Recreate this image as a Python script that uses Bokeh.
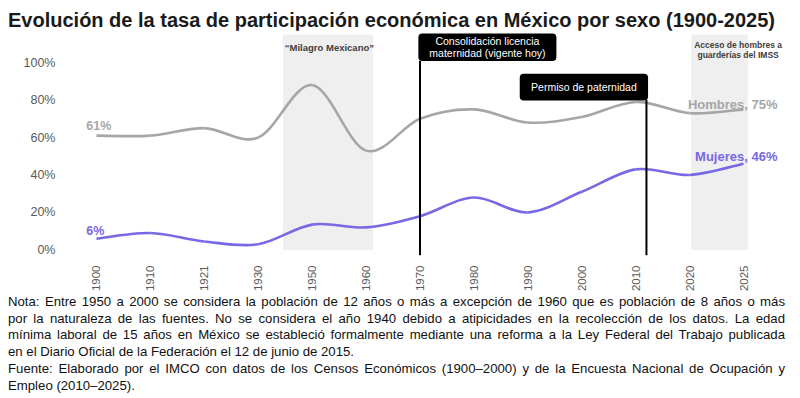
import numpy as np
from bokeh.plotting import figure
from bokeh.models import FixedTicker, Div, ColumnDataSource
from bokeh.layouts import column
from bokeh.embed import file_html
from bokeh.resources import INLINE
from bokeh.core.properties import value

# ---------------- data ----------------
years = ["1900", "1910", "1921", "1930", "1950", "1960", "1970", "1980",
         "1990", "2000", "2010", "2020", "2025"]
hombres = [61, 61, 65, 60, 88, 53, 70, 75, 68, 71, 79, 73, 75]
mujeres = [6, 9, 4.5, 3, 13.5, 12, 18, 28, 20, 31, 43, 40, 46]
y_ticks = [0, 20, 40, 60, 80, 100]
y_tick_labels = ["0%", "20%", "40%", "60%", "80%", "100%"]
event_years = [1970, 2012]
event_texts = [["Consolidación licencia", "maternidad (vigente hoy)"],
               ["Permiso de paternidad"]]

TITLE = "Evolución de la tasa de participación económica en México por sexo (1900-2025)"
NOTE_LINES = [
    ("Nota: Entre 1950 a 2000 se considera la población de 12 años o más a excepción de 1960 que es población de 8 años o más", True),
    ("por la naturaleza de las fuentes. No se considera el año 1940 debido a atipicidades en la recolección de los datos. La edad", True),
    ("mínima laboral de 15 años en México se estableció formalmente mediante una reforma a la Ley Federal del Trabajo publicada", True),
    ("en el Diario Oficial de la Federación el 12 de junio de 2015.", False),
    ("Fuente: Elaborado por el IMCO con datos de los Censos Económicos (1900–2000) y de la Encuesta Nacional de Ocupación y", True),
    ("Empleo (2010–2025).", False),
]

GRAY = "#a6a6a6"
PURPLE = "#7768e3"
FONT = "Liberation Sans"

idx = np.arange(len(years), dtype=float)
year_num = np.array([int(y) for y in years], dtype=float)


def year_to_x(y):
    return float(np.interp(y, year_num, idx))


def bezier_segments(xs, ys):
    xs = np.asarray(xs, float)
    ys = np.asarray(ys, float)
    n = len(xs)
    px = np.concatenate([[xs[0]], xs, [xs[-1]]])
    py = np.concatenate([[ys[0]], ys, [ys[-1]]])
    d = dict(x0=[], y0=[], x1=[], y1=[], cx0=[], cy0=[], cx1=[], cy1=[])
    for i in range(n - 1):
        p0x, p0y = px[i], py[i]
        p1x, p1y = px[i + 1], py[i + 1]
        p2x, p2y = px[i + 2], py[i + 2]
        p3x, p3y = px[i + 3], py[i + 3]
        d["x0"].append(p1x); d["y0"].append(p1y)
        d["x1"].append(p2x); d["y1"].append(p2y)
        d["cx0"].append(p1x + (p2x - p0x) / 6.0)
        d["cy0"].append(p1y + (p2y - p0y) / 6.0)
        d["cx1"].append(p2x - (p3x - p1x) / 6.0)
        d["cy1"].append(p2y - (p3y - p1y) / 6.0)
    return ColumnDataSource(d)


# ---------------- title ----------------
W = 800
title_div = Div(
    text=(f'<div style="margin-left:8px;padding-top:10px;line-height:20px;'
          f'white-space:nowrap;">{TITLE}</div>'),
    width=W, height=30, margin=0,
    styles={"font-family": "'Liberation Sans', Arial, sans-serif",
            "font-size": "20px", "font-weight": "bold", "color": "#1a1a1a"})

# ---------------- figure ----------------
p = figure(width=W, height=264, output_backend="svg", toolbar_location=None,
           x_range=(-0.556, 13.02), y_range=(-3.0, 116.07),
           min_border_left=66, min_border_right=2, min_border_top=2,
           min_border_bottom=36, margin=0)
p.outline_line_color = None
p.xgrid.visible = False
p.ygrid.visible = False
p.background_fill_color = "white"
p.border_fill_color = "white"

# shaded periods
p.quad(left=[3.46, 11.03], right=[5.13, 12.08], bottom=[0, 0], top=[115, 115],
       fill_color="#efefef", line_color=None)

# lines
p.bezier("x0", "y0", "x1", "y1", "cx0", "cy0", "cx1", "cy1",
         source=bezier_segments(idx, hombres), line_color=GRAY, line_width=2.6)
p.bezier("x0", "y0", "x1", "y1", "cx0", "cy0", "cx1", "cy1",
         source=bezier_segments(idx, mujeres), line_color=PURPLE, line_width=2.6)

# event lines and boxes
ex1 = year_to_x(event_years[0])
ex2 = year_to_x(event_years[1])
p.segment(x0=[ex1, ex2], y0=[-3, -3], x1=[ex1, ex2], y1=[101, 80],
          line_color="black", line_width=2)
p.quad(left=[ex1 - 0.03, ex2 - 2.35], right=[ex1 + 2.53, ex2 + 0.03],
       bottom=[100.8, 79.7], top=[115.5, 94.0], fill_color="black",
       line_color=None, border_radius=4)
p.text(x=[ex1 + 1.25, ex1 + 1.25], y=[111.4, 105.1], text=event_texts[0],
       text_color="white", text_font=value(FONT), text_font_size="10.5px",
       text_align="center", text_baseline="middle")
p.text(x=[ex2 - 1.16], y=[86.8], text=event_texts[1],
       text_color="white", text_font=value(FONT), text_font_size="10.5px",
       text_align="center", text_baseline="middle")

# period titles
p.text(x=[4.32], y=[108.2], text=["\u201cMilagro Mexicano\u201d"],
       text_color="#404040", text_font=value(FONT), text_font_size="9.5px",
       text_font_style="bold", text_align="center", text_baseline="middle")
p.text(x=[11.9, 11.9], y=[109.2, 104.0], text=["Acceso de hombres a", "guarderías del IMSS"],
       text_color="#404040", text_font=value(FONT), text_font_size="8.5px",
       text_font_style="bold", text_align="center", text_baseline="middle")

# series labels
p.text(x=[-0.19], y=[66], text=[f"{hombres[0]:.0f}%"], text_color=GRAY,
       text_font=value(FONT), text_font_size="12.5px", text_font_style="bold",
       text_align="left", text_baseline="middle")
p.text(x=[-0.19], y=[10.2], text=[f"{mujeres[0]:.0f}%"], text_color=PURPLE,
       text_font=value(FONT), text_font_size="12.5px", text_font_style="bold",
       text_align="left", text_baseline="middle")
p.text(x=[12.63], y=[77.6], text=[f"Hombres, {hombres[-1]:.0f}%"], text_color=GRAY,
       text_font=value(FONT), text_font_size="13px", text_font_style="bold",
       text_align="right", text_baseline="middle")
p.text(x=[12.63], y=[49.7], text=[f"Mujeres, {mujeres[-1]:.0f}%"], text_color=PURPLE,
       text_font=value(FONT), text_font_size="13px", text_font_style="bold",
       text_align="right", text_baseline="middle")

# axes
p.xaxis.ticker = FixedTicker(ticks=list(idx))
p.xaxis.major_label_overrides = {float(i): y for i, y in zip(idx, years)}
p.xaxis.major_label_orientation = np.pi / 2
p.xaxis.axis_line_color = None
p.xaxis.major_tick_line_color = None
p.xaxis.minor_tick_line_color = None
p.xaxis.major_label_standoff = 4
p.xaxis.major_label_text_font = FONT
p.xaxis.major_label_text_font_size = "11.5px"
p.xaxis.major_label_text_color = "#595959"

p.yaxis.ticker = FixedTicker(ticks=y_ticks)
p.yaxis.major_label_overrides = {t: l for t, l in zip(y_ticks, y_tick_labels)}
p.yaxis.axis_line_color = None
p.yaxis.major_tick_line_color = None
p.yaxis.minor_tick_line_color = None
p.yaxis.major_label_standoff = 5
p.yaxis.major_label_text_font = FONT
p.yaxis.major_label_text_font_size = "12.5px"
p.yaxis.major_label_text_color = "#595959"

# ---------------- footnote ----------------
rows = []
for txt, just in NOTE_LINES:
    align = "text-align:justify;text-align-last:justify;" if just else "text-align:left;"
    rows.append(f'<div style="{align}white-space:nowrap;">{txt}</div>')
note = Div(text=f'<div style="margin-left:8px;width:777px;">{"".join(rows)}</div>',
           width=W, height=104, margin=0,
           styles={"font-family": "'Liberation Sans', Arial, sans-serif",
                   "font-size": "13.2px", "line-height": "16.7px", "color": "#111111"})

layout = column(title_div, p, note, spacing=0)
open("out.html", "w").write(file_html(layout, INLINE))
